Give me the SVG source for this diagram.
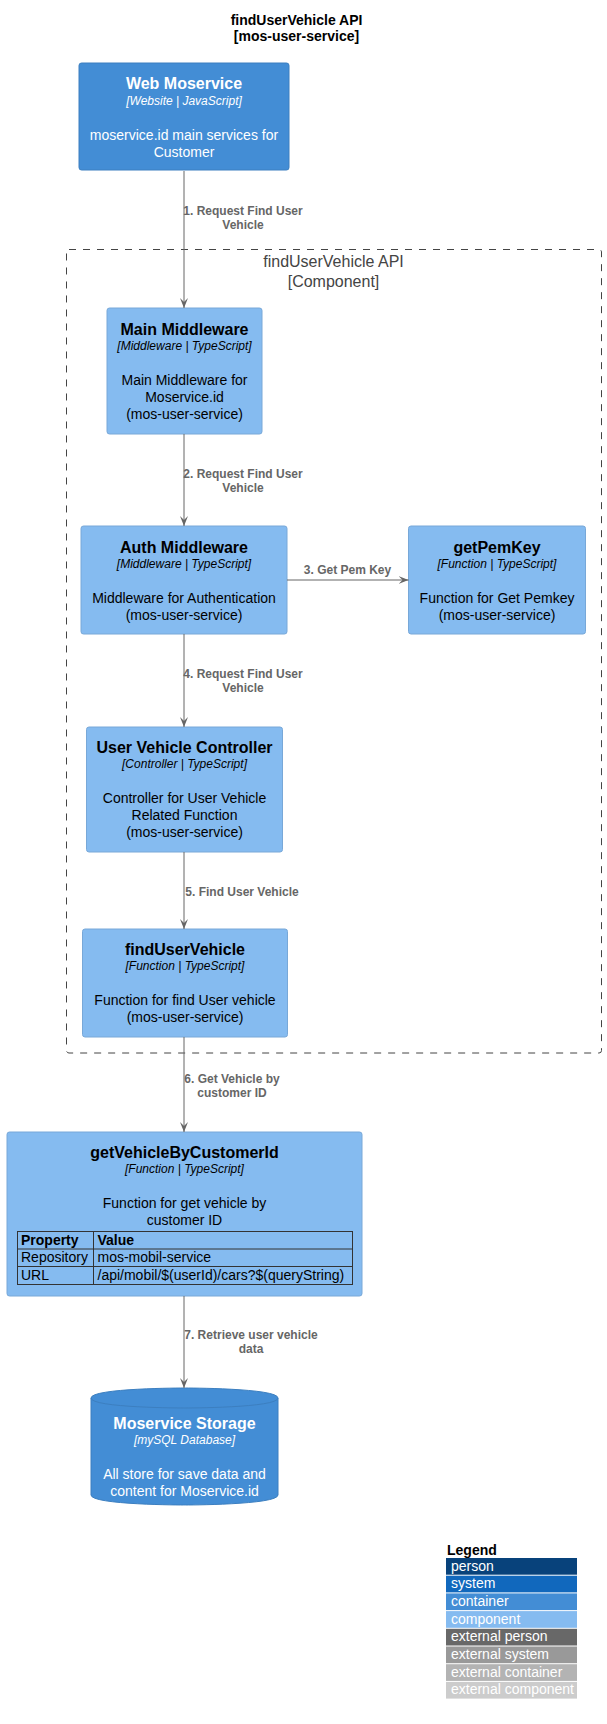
<svg xmlns="http://www.w3.org/2000/svg" width="607" height="1724" viewBox="0 0 607 1724">
<style>
text{font-family:"Liberation Sans",Arial,sans-serif}
.ttl{font-size:14px;font-weight:bold;fill:#000;text-anchor:middle}
.cont{fill:#438DD5;stroke:#3C7FC0;stroke-width:1}
.comp{fill:#85BBF0;stroke:#78A8D8;stroke-width:1}
.nt{font-size:16px;font-weight:bold;text-anchor:middle}
.tech{font-size:12px;font-style:italic;text-anchor:middle}
.desc{font-size:14px;text-anchor:middle}
.w{fill:#FFFFFF}
.b{fill:#000000}
.lbl{font-size:12px;font-weight:bold;fill:#666666;text-anchor:middle}
.edge{stroke:#666666;stroke-width:1;fill:none}
.bnd{fill:none;stroke:#444444;stroke-width:1;stroke-dasharray:7,7}
.bt{font-size:16px;fill:#444444;text-anchor:middle}
.tb{fill:none;stroke:#333333;stroke-width:1}
.tt{font-size:14px;fill:#000}
.lg{font-size:14px;fill:#FFFFFF}
</style>
<defs>
<marker id="arr" viewBox="0 0 10 8" refX="10" refY="4" markerWidth="10" markerHeight="8" markerUnits="userSpaceOnUse" orient="auto">
<path d="M0,0 L10,4 L0,8 L4,4 z" fill="#666666"/>
</marker>
</defs>
<rect width="607" height="1724" fill="#FFFFFF"/>
<g id="title">
<text class="ttl" x="296.5" y="25">findUserVehicle API</text>
<text class="ttl" x="296.5" y="41">[mos-user-service]</text>
</g>
<g id="boundary">
<rect class="bnd" x="66.5" y="249.5" width="535" height="803.5" rx="2.5"/>
<text class="bt" x="333.5" y="267">findUserVehicle API</text>
<text class="bt" x="333.5" y="287">[Component]</text>
</g>
<g id="web-moservice">
<rect class="cont" x="79" y="63" width="210" height="107" rx="2.5"/>
<text class="nt w" x="184" y="89">Web Moservice</text>
<text class="tech w" x="184" y="105">[Website | JavaScript]</text>
<text class="desc w" x="184" y="140">moservice.id main services for</text>
<text class="desc w" x="184" y="157">Customer</text>
</g>
<g id="main-middleware">
<rect class="comp" x="107" y="308" width="155" height="126" rx="2.5"/>
<text class="nt b" x="184.5" y="335">Main Middleware</text>
<text class="tech b" x="184.5" y="350">[Middleware | TypeScript]</text>
<text class="desc b" x="184.5" y="385">Main Middleware for</text>
<text class="desc b" x="184.5" y="402">Moservice.id</text>
<text class="desc b" x="184.5" y="419">(mos-user-service)</text>
</g>
<g id="auth-middleware">
<rect class="comp" x="81" y="526" width="206" height="108" rx="2.5"/>
<text class="nt b" x="184" y="553">Auth Middleware</text>
<text class="tech b" x="184" y="568">[Middleware | TypeScript]</text>
<text class="desc b" x="184" y="603">Middleware for Authentication</text>
<text class="desc b" x="184" y="620">(mos-user-service)</text>
</g>
<g id="getpemkey">
<rect class="comp" x="408.5" y="526" width="177" height="108" rx="2.5"/>
<text class="nt b" x="497" y="553">getPemKey</text>
<text class="tech b" x="497" y="568">[Function | TypeScript]</text>
<text class="desc b" x="497" y="603">Function for Get Pemkey</text>
<text class="desc b" x="497" y="620">(mos-user-service)</text>
</g>
<g id="user-vehicle-controller">
<rect class="comp" x="86.5" y="727" width="196" height="125" rx="2.5"/>
<text class="nt b" x="184.5" y="753">User Vehicle Controller</text>
<text class="tech b" x="184.5" y="768">[Controller | TypeScript]</text>
<text class="desc b" x="184.5" y="803">Controller for User Vehicle</text>
<text class="desc b" x="184.5" y="820">Related Function</text>
<text class="desc b" x="184.5" y="837">(mos-user-service)</text>
</g>
<g id="finduservehicle">
<rect class="comp" x="82.5" y="929" width="205" height="108" rx="2.5"/>
<text class="nt b" x="185" y="955">findUserVehicle</text>
<text class="tech b" x="185" y="970">[Function | TypeScript]</text>
<text class="desc b" x="185" y="1005">Function for find User vehicle</text>
<text class="desc b" x="185" y="1022">(mos-user-service)</text>
</g>
<g id="getvehiclebycustomerid">
<rect class="comp" x="7" y="1132" width="355" height="164" rx="2.5"/>
<text class="nt b" x="184.5" y="1158">getVehicleByCustomerId</text>
<text class="tech b" x="184.5" y="1173">[Function | TypeScript]</text>
<text class="desc b" x="184.5" y="1208">Function for get vehicle by</text>
<text class="desc b" x="184.5" y="1225">customer ID</text>
<rect class="tb" x="17.5" y="1231.5" width="335" height="53"/>
<line class="tb" x1="17.5" y1="1249" x2="352.5" y2="1249"/>
<line class="tb" x1="17.5" y1="1266.5" x2="352.5" y2="1266.5"/>
<line class="tb" x1="93.5" y1="1231.5" x2="93.5" y2="1284.5"/>
<text class="tt" x="21" y="1245" font-weight="bold">Property</text>
<text class="tt" x="97.5" y="1245" font-weight="bold">Value</text>
<text class="tt" x="21" y="1262">Repository</text>
<text class="tt" x="97.5" y="1262">mos-mobil-service</text>
<text class="tt" x="21" y="1280">URL</text>
<text class="tt" x="97.5" y="1280">/api/mobil/$(userId)/cars?$(queryString)</text>
</g>
<g id="moservice-storage">
<path class="cont" d="M91,1398 C91,1388 184.5,1388 184.5,1388 C184.5,1388 278,1388 278,1398 L278,1495 C278,1505 184.5,1505 184.5,1505 C184.5,1505 91,1505 91,1495 Z"/>
<path d="M91,1398 C91,1408 184.5,1408 184.5,1408 C184.5,1408 278,1408 278,1398" fill="none" stroke="#3C7FC0" stroke-width="1"/>
<text class="nt w" x="184.5" y="1429">Moservice Storage</text>
<text class="tech w" x="184.5" y="1444">[mySQL Database]</text>
<text class="desc w" x="184.5" y="1479">All store for save data and</text>
<text class="desc w" x="184.5" y="1496">content for Moservice.id</text>
</g>
<g id="connectors">
<line class="edge" x1="184" y1="171" x2="184" y2="308" marker-end="url(#arr)"/>
<text class="lbl" x="243" y="215">1. Request Find User</text>
<text class="lbl" x="243" y="229">Vehicle</text>
<line class="edge" x1="184" y1="434" x2="184" y2="526" marker-end="url(#arr)"/>
<text class="lbl" x="243" y="478">2. Request Find User</text>
<text class="lbl" x="243" y="492">Vehicle</text>
<line class="edge" x1="287" y1="580" x2="408.5" y2="580" marker-end="url(#arr)"/>
<text class="lbl" x="347.5" y="574">3. Get Pem Key</text>
<line class="edge" x1="184" y1="634" x2="184" y2="727" marker-end="url(#arr)"/>
<text class="lbl" x="243" y="678">4. Request Find User</text>
<text class="lbl" x="243" y="692">Vehicle</text>
<line class="edge" x1="184" y1="852" x2="184" y2="929" marker-end="url(#arr)"/>
<text class="lbl" x="242" y="896">5. Find User Vehicle</text>
<line class="edge" x1="184" y1="1037" x2="184" y2="1132" marker-end="url(#arr)"/>
<text class="lbl" x="232" y="1083">6. Get Vehicle by</text>
<text class="lbl" x="232" y="1097">customer ID</text>
<line class="edge" x1="184" y1="1296" x2="184" y2="1388" marker-end="url(#arr)"/>
<text class="lbl" x="251" y="1339">7. Retrieve user vehicle</text>
<text class="lbl" x="251" y="1353">data</text>
</g>
<g id="legend">
<text x="447" y="1555" font-size="14" font-weight="bold" fill="#000">Legend</text>
<rect x="446" y="1558" width="131" height="16.7" fill="#08427B"/>
<text class="lg" x="451" y="1570.5">person</text>
<rect x="446" y="1575.7" width="131" height="16.7" fill="#1168BD"/>
<text class="lg" x="451" y="1588.2">system</text>
<rect x="446" y="1593.4" width="131" height="16.7" fill="#438DD5"/>
<text class="lg" x="451" y="1605.9">container</text>
<rect x="446" y="1611.1" width="131" height="16.7" fill="#85BBF0"/>
<text class="lg" x="451" y="1623.6">component</text>
<rect x="446" y="1628.8" width="131" height="16.7" fill="#686868"/>
<text class="lg" x="451" y="1641.3">external person</text>
<rect x="446" y="1646.5" width="131" height="16.7" fill="#999999"/>
<text class="lg" x="451" y="1659">external system</text>
<rect x="446" y="1664.2" width="131" height="16.7" fill="#B3B3B3"/>
<text class="lg" x="451" y="1676.7">external container</text>
<rect x="446" y="1681.9" width="131" height="16.7" fill="#CCCCCC"/>
<text class="lg" x="451" y="1694.4">external component</text>
</g>
</svg>
